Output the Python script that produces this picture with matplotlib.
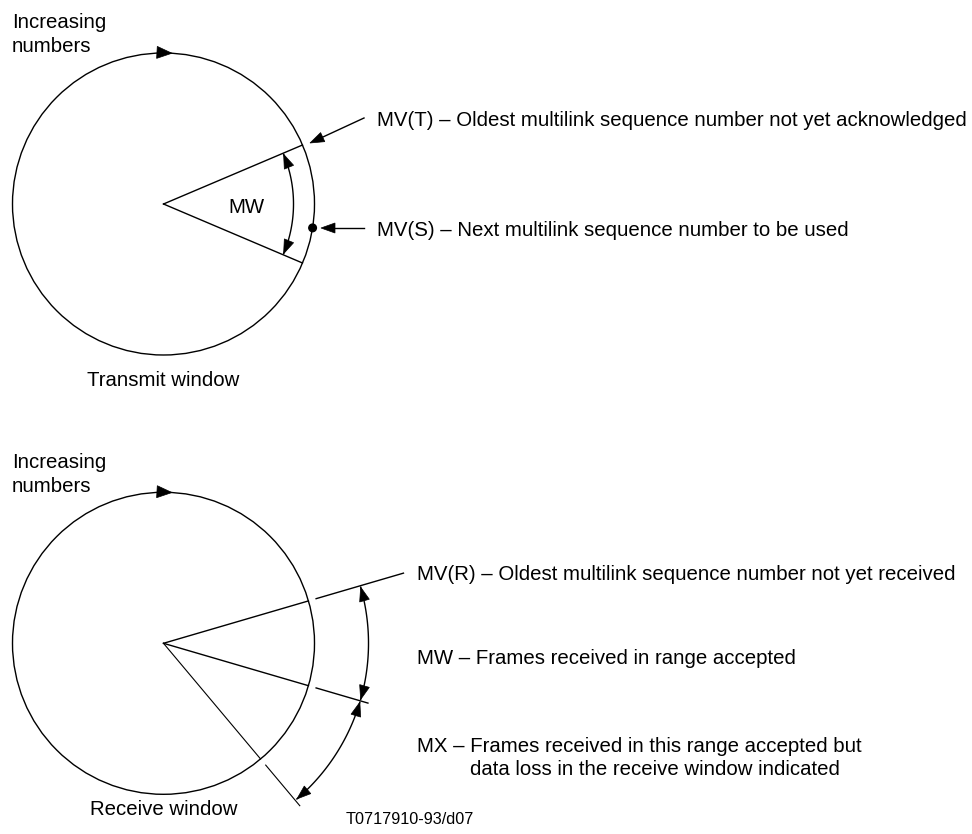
import numpy as np
import matplotlib.pyplot as plt
from matplotlib.patches import Circle, Polygon

plt.rcParams['font.family'] = ['Liberation Sans', 'DejaVu Sans']

# window geometry, in pixels (y grows downward)
centres = [(163.5, 204.0), (163.5, 643.3)]
radius = 151
window_titles = ['Transmit window', 'Receive window']
title_y = [386, 815]
increasing_y = [(28.3, 51.7), (468.3, 491.7)]

# transmit window
tx_wedge = [23, -23]          # degrees
tx_arc_r = 130
mvs_angle = -9.1
tx_labels = ['MV(T) \u2013 Oldest multilink sequence number not yet acknowledged',
             'MV(S) \u2013 Next multilink sequence number to be used']
tx_label_y = [126, 235.5]

# receive window
rx_lines = [16.3, -16.3, -50]
rx_outer = [(159, 250), (159, 213), (159, 212)]
rx_arc_r = 205
rx_labels = ['MV(R) \u2013 Oldest multilink sequence number not yet received',
             'MW \u2013 Frames received in range accepted',
             'MX \u2013 Frames received in this range accepted but']
rx_label_y = [580.5, 664, 752]
rx_extra = 'data loss in the receive window indicated'

ref_code = 'T0717910-93/d07'

FS = 14.7
LW = 1.0


def pt(c, r, a):
    a = np.radians(a)
    return np.array([c[0] + r * np.cos(a), c[1] - r * np.sin(a)])


def head(ax, tip, d, length=14, width=10):
    tip = np.asarray(tip, float)
    d = np.asarray(d, float)
    d = d / np.hypot(*d)
    n = np.array([-d[1], d[0]])
    base = tip - length * d
    ax.add_patch(Polygon([tip, base + width / 2 * n, base - width / 2 * n],
                         closed=True, fc='black', ec='black', lw=0.5))


def arrow(ax, start, tip):
    start = np.asarray(start, float)
    tip = np.asarray(tip, float)
    d = tip - start
    d = d / np.hypot(*d)
    ax.plot([start[0], tip[0] - 8 * d[0]], [start[1], tip[1] - 8 * d[1]], color='black', lw=LW)
    head(ax, tip, d)


def double_arc(ax, c, r, a0, a1):
    ang = np.linspace(a0, a1, 120)
    xy = np.array([pt(c, r, a) for a in ang])
    ax.plot(xy[:, 0], xy[:, 1], color='black', lw=LW)
    t1 = np.radians(a1)
    head(ax, pt(c, r, a1), (-np.sin(t1), -np.cos(t1)))
    t0 = np.radians(a0)
    head(ax, pt(c, r, a0), (np.sin(t0), np.cos(t0)))


fig = plt.figure(figsize=(9.72, 8.34), dpi=100)
ax = fig.add_axes([0, 0, 1, 1])
ax.set_xlim(0, 972)
ax.set_ylim(834, 0)
ax.axis('off')

for c, title, ty, (y1, y2) in zip(centres, window_titles, title_y, increasing_y):
    ax.add_patch(Circle(c, radius, fill=False, ec='black', lw=LW))
    # direction arrow at the top of each circle
    a = np.radians(86.8)
    head(ax, pt(c, radius, 86.8), (np.sin(a), np.cos(a)), length=15, width=12)
    ax.text(c[0], ty, title, ha='center', va='baseline', fontsize=FS)
    ax.text(12, y1, 'Increasing', ha='left', va='baseline', fontsize=FS)
    ax.text(12, y2, 'numbers', ha='left', va='baseline', fontsize=FS)

# transmit window
c = centres[0]
for a in tx_wedge:
    p = pt(c, radius, a)
    ax.plot([c[0], p[0]], [c[1], p[1]], color='black', lw=LW)
double_arc(ax, c, tx_arc_r, tx_wedge[1] + 0.5, tx_wedge[0] - 0.5)
ax.text(246, 213, 'MW', ha='center', va='baseline', fontsize=FS)
ax.add_patch(Circle(pt(c, radius, mvs_angle), 3.8, fc='black', ec='black'))
arrow(ax, (364, 118), (310, 143))
arrow(ax, (364, 228), (321, 228))
for lab, y in zip(tx_labels, tx_label_y):
    ax.text(377, y, lab, ha='left', va='baseline', fontsize=FS)

# receive window
c = centres[1]
for a, (r0, r1) in zip(rx_lines, rx_outer):
    w = LW if a > -40 else 0.8
    p = pt(c, radius, a)
    ax.plot([c[0], p[0]], [c[1], p[1]], color='black', lw=w)
    p0, p1 = pt(c, r0, a), pt(c, r1, a)
    ax.plot([p0[0], p1[0]], [p0[1], p1[1]], color='black', lw=w)
double_arc(ax, c, rx_arc_r, rx_lines[1] + 0.4, rx_lines[0] - 0.4)
double_arc(ax, c, rx_arc_r, rx_lines[2] + 0.6, rx_lines[1] - 0.4)
for lab, y in zip(rx_labels, rx_label_y):
    ax.text(417, y, lab, ha='left', va='baseline', fontsize=FS)
ax.text(470, 775, rx_extra, ha='left', va='baseline', fontsize=FS)
ax.text(346, 824, ref_code, ha='left', va='baseline', fontsize=11.7)

fig.savefig('out.png', dpi=100)
